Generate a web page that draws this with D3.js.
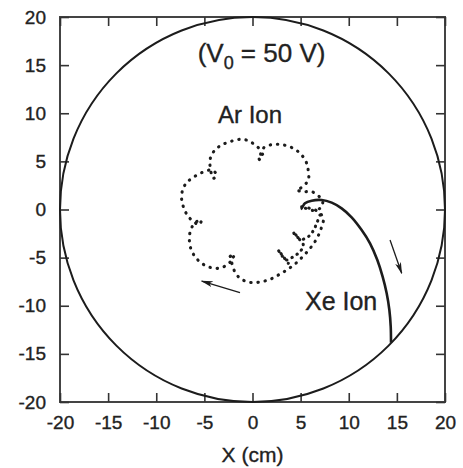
<!DOCTYPE html>
<html>
<head>
<meta charset="utf-8">
<script src="https://cdn.jsdelivr.net/npm/d3@7"></script>
<style>
  html, body { margin: 0; padding: 0; background: #fff; }
  svg text { font-family: "Liberation Sans", Arial, sans-serif; fill: #222; stroke: #222; stroke-width: 0.35px; }
</style>
</head>
<body>
<svg id="chart" width="463" height="468"></svg>
<script>
// tick values for both axes
const xTicks = [-20, -15, -10, -5, 0, 5, 10, 15, 20];
const yTicks = [-20, -15, -10, -5, 0, 5, 10, 15, 20];

// chamber wall radius (cm)
const wallRadius = 20;

// Xe ion trajectory (cm)
const xeX = [5.0, 5.11, 5.45, 6.15, 7.19, 8.23, 9.26, 10.30, 11.34, 12.21, 12.97, 13.52, 13.94, 14.22, 14.36, 14.39];
const xeY = [0.05, 0.12, 0.64, 0.92, 0.99, 0.71, 0.12, -0.81, -2.13, -3.51, -5.25, -6.98, -8.71, -10.44, -12.17, -13.85];

// Ar ion trajectory, outer circuit (cm)
const arX = [5.11, 5.97, 6.84, 7.36, 7.19, 6.94, 6.49, 5.90, 5.21, 4.42, 3.55, 2.68, 1.82, 0.95, 0.09, -0.78, -1.47, -1.92,
  -2.16, -1.82, -2.34, -2.16, -2.68, -3.55, -4.42, -5.28, -5.97, -6.42, -6.56, -6.42,
  -5.97, -5.28, -5.63, -5.97, -6.67, -7.12, -7.36, -7.26, -6.84, -6.15, -5.28,
  -4.24, -3.72, -4.07, -4.42, -4.35, -3.90, -3.20, -2.34, -1.30, -0.43, 0.26, 0.78,
  0.78, 0.61, 1.13, 1.13, 1.82, 2.68, 3.55, 4.42, 5.11, 5.63, 5.80, 5.80,
  5.11, 4.59, 5.28, 6.15, 6.94, 7.30, 7.10, 6.40, 5.60, 5.11];
const arY = [0.29, 0.12, -0.23, -0.92, -1.78, -2.48, -3.34, -4.14, -4.90, -5.66, -6.29, -6.81, -7.26, -7.50, -7.60, -7.43, -6.98, -6.29,
  -5.18, -4.73, -4.90, -5.18, -5.77, -6.11, -6.01, -5.59, -4.90, -4.03, -3.00, -2.13,
  -1.37, -1.09, -1.61, -1.37, -0.74, 0.12, 1.06, 2.03, 2.79, 3.34, 3.83,
  4.10, 3.58, 3.24, 4.62, 5.42, 6.18, 6.70, 7.05, 7.29, 7.15, 6.70, 6.18,
  5.14, 5.49, 5.84, 6.36, 6.70, 6.77, 6.63, 6.25, 5.66, 4.80, 3.93, 3.06,
  2.30, 2.03, 1.85, 1.85, 1.33, 0.70, 0.20, -0.10, 0.10, 0.29];

// Ar ion trajectory, inner tangled segment (cm)
const arInnerX = [7.01, 6.67, 6.32, 5.80, 5.11, 4.42, 4.24, 4.70, 5.28, 4.94, 4.24, 3.55, 2.93, 2.68, 3.20, 3.72];
const arInnerY = [-0.57, -1.44, -2.20, -2.82, -3.10, -2.65, -2.30, -2.90, -3.69, -4.38, -4.90, -5.25, -4.62, -4.21, -4.90, -5.59];

// direction arrows [x1, y1, x2, y2] (cm)
const arrowXe = [14.29, -3.17, 15.50, -6.63];
const arrowAr = [-1.30, -8.64, -5.28, -7.43];

const svg = d3.select('#chart');
const margin = { left: 60, top: 17, right: 18, bottom: 66 };
const W = 463, H = 468;
const iw = W - margin.left - margin.right;
const ih = H - margin.top - margin.bottom;

const x = d3.scaleLinear().domain([-20, 20]).range([margin.left, margin.left + iw]);
const y = d3.scaleLinear().domain([-20, 20]).range([margin.top + ih, margin.top]);

const ink = '#1c1c1c';
const fmt = d => String(d); // plain hyphen minus like the original

// frame
svg.append('rect')
  .attr('x', x(-20)).attr('y', y(20))
  .attr('width', x(20) - x(-20)).attr('height', y(-20) - y(20))
  .attr('fill', 'none').attr('stroke', '#444').attr('stroke-width', 2);

function styleAxis(g) {
  g.select('.domain').remove();
  g.selectAll('.tick line').attr('stroke', '#333').attr('stroke-width', 1.6);
  g.selectAll('.tick text').attr('fill', '#222').style('font-size', '19px')
    .style('font-family', '"Liberation Sans", Arial, sans-serif');
}

svg.append('g').attr('transform', `translate(0,${y(-20)})`)
  .call(d3.axisBottom(x).tickValues(xTicks).tickSize(-9).tickPadding(14).tickFormat(fmt))
  .call(styleAxis);
svg.append('g').attr('transform', `translate(${x(-20)},0)`)
  .call(d3.axisLeft(y).tickValues(yTicks).tickSize(-9).tickPadding(14).tickFormat(fmt))
  .call(styleAxis);
svg.append('g').attr('transform', `translate(0,${y(20)})`)
  .call(d3.axisTop(x).tickValues(xTicks).tickSize(-9).tickFormat(''))
  .call(styleAxis);
svg.append('g').attr('transform', `translate(${x(20)},0)`)
  .call(d3.axisRight(y).tickValues(yTicks).tickSize(-9).tickFormat(''))
  .call(styleAxis);

// chamber wall
svg.append('ellipse')
  .attr('cx', x(0)).attr('cy', y(0))
  .attr('rx', x(wallRadius) - x(0)).attr('ry', y(0) - y(wallRadius))
  .attr('fill', 'none').attr('stroke', ink).attr('stroke-width', 2);

const line = d3.line().x(d => x(d[0])).y(d => y(d[1])).curve(d3.curveCatmullRom.alpha(0.5));

// Ar ion, dotted
svg.append('path')
  .datum(arX.map((v, i) => [v, arY[i]]))
  .attr('d', line)
  .attr('fill', 'none').attr('stroke', ink).attr('stroke-width', 3.1)
  .attr('stroke-linecap', 'round').attr('stroke-dasharray', '0.4,6.8');
svg.append('path')
  .datum(arInnerX.map((v, i) => [v, arInnerY[i]]))
  .attr('d', line)
  .attr('fill', 'none').attr('stroke', ink).attr('stroke-width', 3.1)
  .attr('stroke-linecap', 'round').attr('stroke-dasharray', '0.4,5.6');

// Xe ion, solid
svg.append('path')
  .datum(xeX.map((v, i) => [v, xeY[i]]))
  .attr('d', line)
  .attr('fill', 'none').attr('stroke', ink).attr('stroke-width', 2.6);

// arrows
svg.append('defs').append('marker')
  .attr('id', 'head').attr('viewBox', '0 0 12 6').attr('refX', 11).attr('refY', 3)
  .attr('markerWidth', 12).attr('markerHeight', 6).attr('markerUnits', 'userSpaceOnUse')
  .attr('orient', 'auto')
  .append('path').attr('d', 'M0,0 L12,3 L0,6 L3,3 Z').attr('fill', ink);

[arrowXe, arrowAr].forEach(a => {
  svg.append('line')
    .attr('x1', x(a[0])).attr('y1', y(a[1])).attr('x2', x(a[2])).attr('y2', y(a[3]))
    .attr('stroke', ink).attr('stroke-width', 1.3).attr('marker-end', 'url(#head)');
});

// labels
const v0 = svg.append('text').attr('x', x(-5.7)).attr('y', y(15.3)).style('font-size', '26px');
v0.append('tspan').text('(V');
v0.append('tspan').attr('dy', 7).style('font-size', '18px').text('0');
v0.append('tspan').attr('dy', -7).text(' = 50 V)');

svg.append('text').attr('x', x(-3.58)).attr('y', y(9.0)).style('font-size', '24px').text('Ar Ion');
svg.append('text').attr('x', x(5.45)).attr('y', y(-10.44)).style('font-size', '25px').text('Xe Ion');

svg.append('text').attr('x', x(0)).attr('y', 462).attr('text-anchor', 'middle')
  .style('font-size', '21px').text('X (cm)');
</script>
</body>
</html>
